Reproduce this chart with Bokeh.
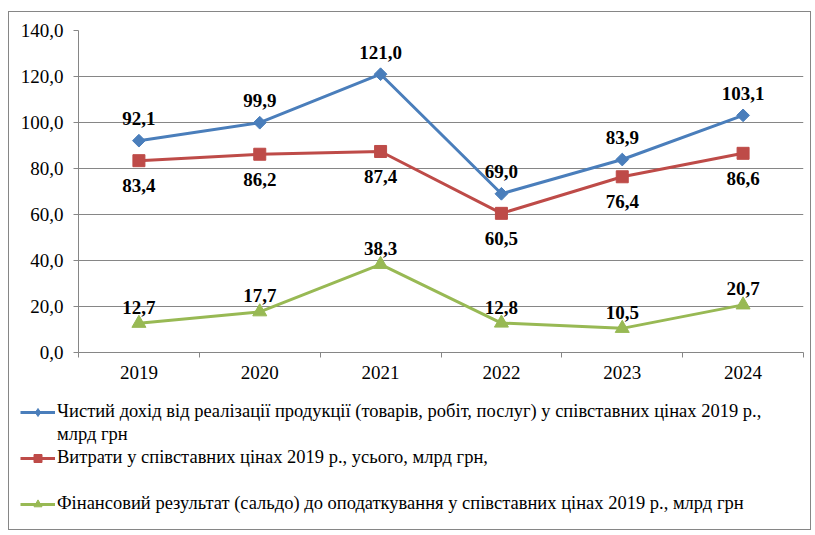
import numpy as np
from bokeh.plotting import figure
from bokeh.models import (Range1d, FixedTicker, Legend, LegendItem,
                          LabelSet, ColumnDataSource)
from bokeh.core.properties import value
from bokeh.embed import file_html
from bokeh.resources import INLINE

years = ["2019", "2020", "2021", "2022", "2023", "2024"]
revenue = [92.1, 99.9, 121.0, 69.0, 83.9, 103.1]
costs = [83.4, 86.2, 87.4, 60.5, 76.4, 86.6]
result = [12.7, 17.7, 38.3, 12.8, 10.5, 20.7]
y_ticks = [0, 20, 40, 60, 80, 100, 120, 140]
legend_labels = [
    "Чистий дохід від реалізації продукції (товарів, робіт, послуг) у співставних цінах 2019 р.,",
    "млрд грн",
    "Витрати у співставних цінах 2019 р., усього, млрд грн,",
    " ",
    "Фінансовий результат (сальдо) до оподаткування у співставних цінах 2019 р., млрд грн",
]

FONT = "Liberation Serif"
GRID = "#868686"
BORDER = "1px solid #868686"
BLUE, RED, GREEN = "#4A7EBB", "#BE4B48", "#98B954"


def fmt(v):
    return f"{v:.1f}".replace(".", ",")


xs = [i + 0.5 for i in range(len(years))]

p = figure(width=803, height=375, x_range=Range1d(0, len(years)), y_range=Range1d(0, 140),
           output_backend="svg", toolbar_location=None,
           min_border_left=69, min_border_right=9, min_border_top=18, min_border_bottom=35)
p.margin = (11, 0, 0, 8)
p.styles = {"border-top": BORDER, "border-left": BORDER, "border-right": BORDER}
p.outline_line_color = None
p.background_fill_color = "white"
p.border_fill_color = "white"

p.xgrid.visible = False
p.ygrid.ticker = FixedTicker(ticks=y_ticks)
p.ygrid.grid_line_color = GRID
p.ygrid.grid_line_width = 1

p.yaxis.ticker = FixedTicker(ticks=y_ticks)
p.yaxis.major_label_overrides = {t: fmt(t) for t in y_ticks}
p.yaxis.major_tick_in = 0
p.yaxis.major_tick_out = 5
p.yaxis.minor_tick_line_color = None
p.yaxis.major_tick_line_color = GRID
p.yaxis.axis_line_color = GRID
p.yaxis.major_label_standoff = 10

p.xaxis.ticker = FixedTicker(ticks=xs, minor_ticks=list(range(len(years) + 1)))
p.xaxis.major_label_overrides = {x: y for x, y in zip(xs, years)}
p.xaxis.major_tick_line_color = None
p.xaxis.minor_tick_in = 0
p.xaxis.minor_tick_out = 5
p.xaxis.minor_tick_line_color = GRID
p.xaxis.axis_line_color = GRID
p.xaxis.major_label_standoff = 7

for ax in (p.xaxis, p.yaxis):
    ax.major_label_text_font = FONT
    ax.major_label_text_font_size = "19px"
    ax.major_label_text_color = "black"

series = [
    (revenue, BLUE, dict(marker="square", size=9, angle=np.pi / 4), 22,
     dict(marker="diamond", size=15)),
    (costs, RED, dict(marker="square", size=12), -25, dict(marker="square", size=12)),
    (result, GREEN, dict(marker="triangle", size=14), 16, dict(marker="triangle", size=14)),
]
for vals, col, mk, dy, _ in series:
    src = ColumnDataSource(dict(x=xs, y=vals, t=[fmt(v) for v in vals]))
    p.line("x", "y", source=src, line_color=col, line_width=3)
    p.scatter("x", "y", source=src, fill_color=col, line_color=col, **mk)
    p.add_layout(LabelSet(x="x", y="y", text="t", source=src, y_offset=dy,
                          text_align="center", text_baseline="middle",
                          text_font=value(FONT), text_font_size="19px",
                          text_font_style="bold", text_color="black"))

# legend panel (separate root so its frame spans the full width)
pl = figure(width=803, height=144, x_range=Range1d(1000, 1001), y_range=Range1d(1000, 1001),
            output_backend="svg", toolbar_location=None, min_border=0,
            min_border_left=0, min_border_right=0, min_border_top=0, min_border_bottom=0,
            x_axis_location=None, y_axis_location=None)
pl.margin = (0, 0, 0, 8)
pl.styles = {"border-bottom": BORDER, "border-left": BORDER, "border-right": BORDER}
pl.grid.visible = False
pl.outline_line_color = None
pl.background_fill_color = "white"
pl.border_fill_color = "white"

lrends = []
for vals, col, mk, dy, lmk in series:
    ln = pl.line(x=xs, y=vals, line_color=col, line_width=3)
    sc = pl.scatter(x=xs, y=vals, fill_color=col, line_color=col, **lmk)
    lrends.append([ln, sc])
blank = pl.line(x=xs, y=revenue, line_alpha=0)
items = [
    LegendItem(label=legend_labels[0], renderers=lrends[0]),
    LegendItem(label=legend_labels[1], renderers=[blank]),
    LegendItem(label=legend_labels[2], renderers=lrends[1]),
    LegendItem(label=legend_labels[3], renderers=[blank]),
    LegendItem(label=legend_labels[4], renderers=lrends[2]),
]
legend = Legend(items=items, location=(11, 15), padding=0, margin=0,
                border_line_alpha=0, background_fill_alpha=0,
                glyph_width=35, glyph_height=20, label_height=23, spacing=0,
                label_standoff=2, label_text_font=FONT, label_text_font_size="18.5px",
                label_text_color="black")
pl.add_layout(legend, "center")

open("out.html", "w").write(file_html([p, pl], INLINE))
